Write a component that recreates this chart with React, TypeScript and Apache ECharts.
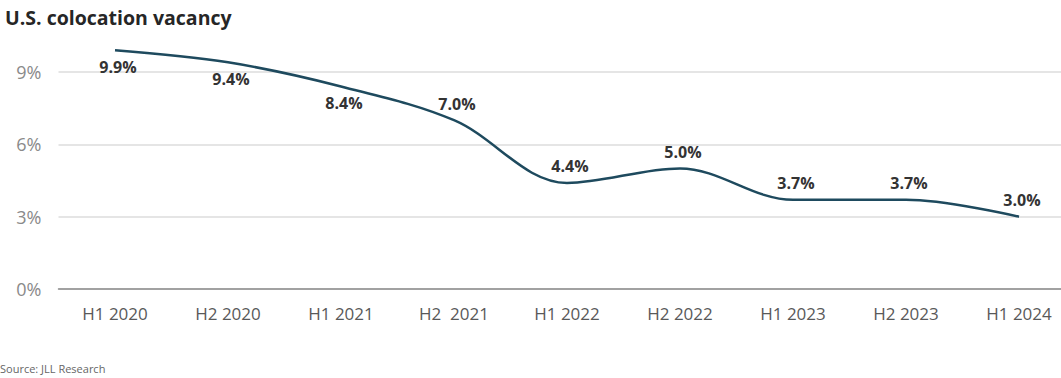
import React, { useEffect, useRef } from "react";
import * as echarts from "echarts";

const categories = ["H1 2020", "H2 2020", "H1 2021", "H2  2021", "H1 2022", "H2 2022", "H1 2023", "H2 2023", "H1 2024"];
const vacancy = [9.9, 9.4, 8.4, 7.0, 4.4, 5.0, 3.7, 3.7, 3.0];
const labelBelow = [true, true, true, false, false, false, false, false, false];
const yTicks = [0, 3, 6, 9];

export default function App() {
  const ref = useRef<HTMLDivElement>(null);
  useEffect(() => {
    document.body.style.margin = "0";
    const chart = echarts.init(ref.current!, null, { renderer: "svg" });
    chart.setOption({
      animation: false,
      backgroundColor: "#ffffff",
      title: {
        text: "U.S. colocation vacancy",
        left: 0,
        top: 2,
        textStyle: { fontFamily: "Open Sans", fontWeight: "bold", fontSize: 19.5, color: "#262626" },
      },
      graphic: [
        {
          type: "text",
          left: 0,
          top: 363,
          style: { text: "Source: JLL Research", fontFamily: "Open Sans", fontSize: 11, fill: "#666" },
        },
      ],
      grid: { left: 58.5, right: -14.5, top: 72, bottom: 89, outerBoundsMode: "none", containLabel: false },
      xAxis: {
        type: "category",
        data: categories,
        boundaryGap: true,
        axisLine: { lineStyle: { color: "#8a8a8a", width: 1.5 } },
        axisTick: { show: false },
        axisLabel: { color: "#595959", fontFamily: "Open Sans", fontSize: 17, margin: 16, interval: 0 },
      },
      yAxis: {
        type: "value",
        min: yTicks[0],
        max: yTicks[yTicks.length - 1],
        interval: 3,
        axisLine: { show: false },
        axisTick: { show: false },
        axisLabel: { color: "#8a8a8a", fontFamily: "Open Sans", fontSize: 18, margin: 17, formatter: "{value}%" },
        splitLine: { lineStyle: { color: "#dcdcdc", width: 1.5 } },
      },
      series: [
        {
          type: "line",
          data: vacancy.map((v, i) => ({
            value: v,
            label: { position: labelBelow[i] ? "bottom" : "top", distance: 8, offset: [3, 0] },
          })),
          smooth: 0.35,
          clip: false,
          showSymbol: true,
          symbol: "circle",
          symbolSize: 1,
          itemStyle: { opacity: 0 },
          lineStyle: { color: "#1e4a5e", width: 2.5 },
          label: {
            show: true,
            formatter: (p: any) => p.value.toFixed(1) + "%",
            fontFamily: "Open Sans",
            fontWeight: "bold",
            fontSize: 16,
            color: "#333333",
            opacity: 1,
          },
        },
      ],
    });
    return () => chart.dispose();
  }, []);
  return <div ref={ref} style={{ width: 1061, height: 378 }} />;
}
